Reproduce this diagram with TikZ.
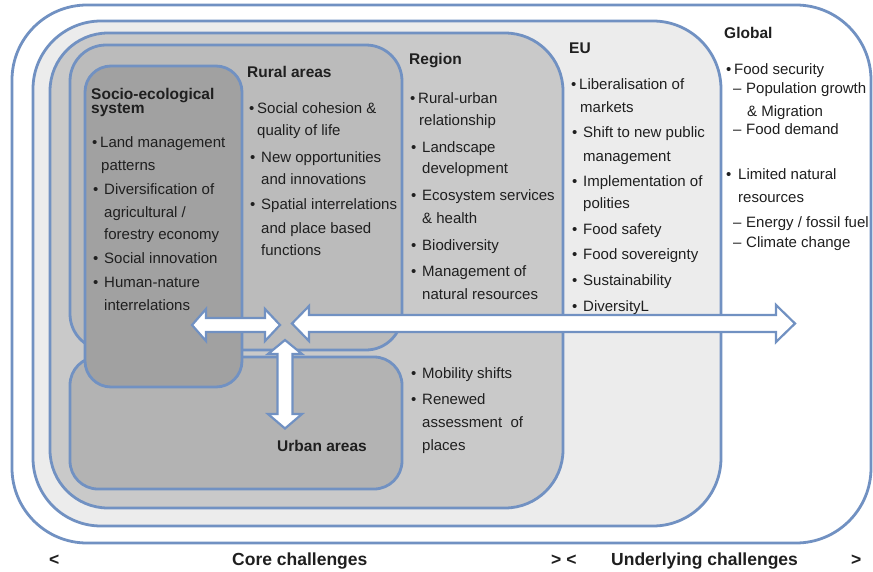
\documentclass[tikz,border=0pt]{standalone}
\usepackage{fontspec}
\setmainfont{Liberation Sans}
\usetikzlibrary{fit}

\definecolor{edge}{HTML}{7191C2}
\definecolor{ink}{HTML}{1F1F1F}
\definecolor{eufill}{HTML}{ECECEC}
\definecolor{regionfill}{HTML}{C9C9C9}
\definecolor{ruralfill}{HTML}{BBBBBB}
\definecolor{urbanfill}{HTML}{B3B3B3}
\definecolor{sociofill}{HTML}{A1A1A1}

% bullets and dashes hung to the left of the text start
\newcommand\bA{\llap{\makebox[8pt][l]{•}}}
\newcommand\bB{\llap{\makebox[11pt][l]{•}}}
\newcommand\bC{\llap{\makebox[12pt][l]{•}}}
\newcommand\dA{\llap{\makebox[13pt][l]{–}}}

\begin{document}
\begin{tikzpicture}[x=1pt,y=-1pt,
  panel/.style={draw=edge, line width=2.8pt, inner sep=0pt, outer sep=0pt},
  body/.style={font=\fontsize{15}{18}\selectfont, text=ink, inner sep=0pt, anchor=base west},
  head/.style={font=\fontsize{15.5}{18}\selectfont\bfseries, text=ink, inner sep=0pt, anchor=base west},
  foot/.style={font=\fontsize{17.5}{20}\selectfont\bfseries, text=ink, inner sep=0pt, anchor=base west},
  blockarrow/.style={draw=edge, line width=2.2pt, fill=white, line join=miter}]

\useasboundingbox[fill=white] (0,0) rectangle (873,571);

% nested scales
\node[panel, fill=white, rounded corners=75pt, fit={(12,5) (871,543)}] (global) {};
\node[panel, fill=eufill, rounded corners=68pt, fit={(33,21) (721,526)}] (eu) {};
\node[panel, fill=regionfill, rounded corners=58pt, fit={(50,33) (563,508)}] (region) {};
\node[panel, fill=ruralfill, rounded corners=36pt, fit={(70,45) (402,350)}] (rural) {};
\node[panel, fill=urbanfill, rounded corners=28pt, fit={(70,357) (402,489)}] (urban) {};
\node[panel, fill=sociofill, rounded corners=26pt, fit={(85,66) (242,387)}] (socio) {};

% exchange arrows
\draw[blockarrow] (192,325) -- (206,309) -- (206,318) -- (265,318) -- (265,309)
  -- (280,325) -- (265,341) -- (265,332) -- (206,332) -- (206,341) -- cycle;
\draw[blockarrow] (292,323.5) -- (309,306) -- (309,315) -- (776,315) -- (776,305)
  -- (795,323.5) -- (776,342) -- (776,332) -- (309,332) -- (309,341) -- cycle;
\draw[blockarrow] (285,340) -- (302,354) -- (292.5,354) -- (292.5,414) -- (302,414)
  -- (285,428.5) -- (268,414) -- (277.5,414) -- (277.5,354) -- (268,354) -- cycle;

% socio-ecological system
\node[head] (socT1) at (91,99) {Socio-ecological};
\node[head] (socT2) at (91,113) {system};
\foreach \x/\y/\t [count=\i] in {
  100/147/{\bA Land management},
  101/170/{patterns},
  104/194/{\bB Diversification of},
  104/217/{agricultural /},
  104/239/{forestry economy},
  104/263/{\bB Social innovation},
  104/287/{\bB Human-nature},
  104/310/{interrelations}}
  \node[body] (soc\i) at (\x,\y) {\t};

% rural areas
\node[head] (rurT) at (247,77) {Rural areas};
\foreach \x/\y/\t [count=\i] in {
  257/113/{\bA Social cohesion \&},
  257/135/{quality of life},
  261/162/{\bB New opportunities},
  261/184/{and innovations},
  261/209/{\bB Spatial interrelations},
  261/233/{and place based},
  261/255/{functions}}
  \node[body] (rur\i) at (\x,\y) {\t};

% region
\node[head] (regT) at (409,64) {Region};
\foreach \x/\y/\t [count=\i] in {
  418/103/{\bA Rural-urban},
  419/125/{relationship},
  422/152/{\bB Landscape},
  422/173/{development},
  422/200/{\bB Ecosystem services},
  422/223/{\& health},
  422/250/{\bB Biodiversity},
  422/276/{\bB Management of},
  422/299/{natural resources}}
  \node[body] (reg\i) at (\x,\y) {\t};

% EU
\node[head] (euT) at (569,53) {EU};
\foreach \x/\y/\t [count=\i] in {
  579/89/{\bA Liberalisation of},
  580/112/{markets},
  583/137/{\bB Shift to new public},
  583/161/{management},
  583/186/{\bB Implementation of},
  583/208/{polities},
  583/234/{\bB Food safety},
  583/259/{\bB Food sovereignty},
  583/285/{\bB Sustainability},
  583/311/{\bB DiversityL}}
  \node[body] (euL\i) at (\x,\y) {\t};

% global
\node[head] (gloT) at (724,38) {Global};
\foreach \x/\y/\t [count=\i] in {
  734/74/{\bA Food security},
  746/93/{\dA Population growth},
  747/116/{\& Migration},
  746/134/{\dA Food demand},
  738/179/{\bC Limited natural},
  738/202/{resources},
  746/227/{\dA Energy / fossil fuel},
  746/247/{\dA Climate change}}
  \node[body] (glo\i) at (\x,\y) {\t};

% urban areas
\node[head] (urbT) at (277,451) {Urban areas};
\foreach \x/\y/\t [count=\i] in {
  422/378/{\bB Mobility shifts},
  422/404/{\bB Renewed},
  422/427/{assessment\ \ of},
  422/450/{places}}
  \node[body] (urb\i) at (\x,\y) {\t};

% scale of challenges
\node[foot] (lt1) at (49,565) {<};
\node[foot] (core) at (232,565) {Core challenges};
\node[foot] (gtlt) at (551,565) {> <};
\node[foot] (under) at (611,565) {Underlying challenges};
\node[foot] (gt2) at (851,565) {>};
\end{tikzpicture}
\end{document}
